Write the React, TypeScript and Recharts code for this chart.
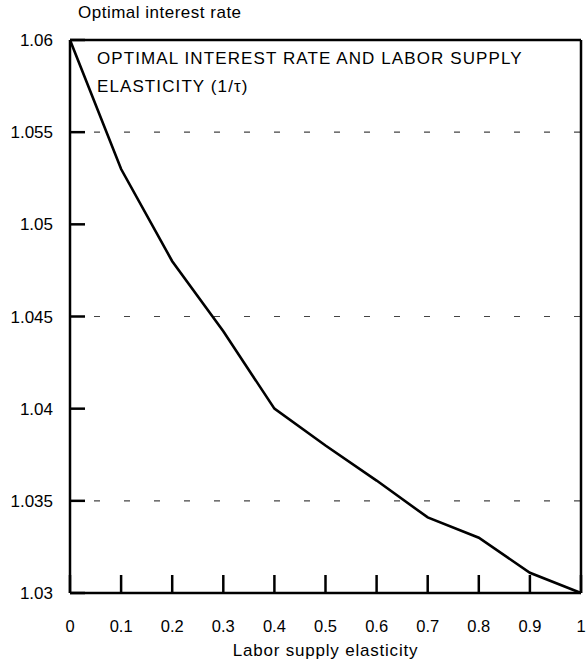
import { LineChart, Line, XAxis, YAxis, ReferenceLine, Label } from 'recharts'

// labor supply elasticity (x) and optimal interest rate (y)
const elasticity = [0, 0.1, 0.2, 0.3, 0.4, 0.5, 0.6, 0.7, 0.8, 0.9, 1]
const optimalRate = [1.06, 1.053, 1.048, 1.0442, 1.04, 1.038, 1.0361, 1.0341, 1.033, 1.0311, 1.03]

const xTicks = [0, 0.1, 0.2, 0.3, 0.4, 0.5, 0.6, 0.7, 0.8, 0.9, 1]
const yTicks = [1.03, 1.035, 1.04, 1.045, 1.05, 1.055, 1.06]
const dashedLevels = [1.055, 1.045, 1.035]

const data = elasticity.map((e, i) => ({ e, rate: optimalRate[i] }))

const FONT = '"Liberation Sans", Arial, Helvetica, sans-serif'

export default function App() {
  return (
    <div style={{ position: 'absolute', left: 0, top: 0, width: 587, height: 668, background: '#fff', fontFamily: FONT }}>
      <LineChart width={587} height={668} data={data} margin={{ top: 40, right: 6, left: 0, bottom: 45 }}>
        <XAxis
          dataKey="e"
          type="number"
          domain={[0, 1]}
          ticks={xTicks}
          tickFormatter={(v: number) => String(v)}
          tickSize={-18}
          tickMargin={45}
          height={30}
          axisLine={{ stroke: '#000', strokeWidth: 2.5 }}
          tickLine={{ stroke: '#000', strokeWidth: 2.5 }}
          tick={{ fill: '#000', fontSize: 16.5, fontFamily: FONT }}
        >
          <Label
            value="Labor supply elasticity"
            position="bottom"
            offset={21}
            fill="#000"
            fontSize={17}
            fontFamily={FONT}
            letterSpacing={0.8}
          />
        </XAxis>
        <YAxis
          type="number"
          domain={[1.03, 1.06]}
          ticks={yTicks}
          tickFormatter={(v: number) => String(v)}
          tickSize={-15}
          tickMargin={32}
          width={70}
          axisLine={{ stroke: '#000', strokeWidth: 2.5 }}
          tickLine={{ stroke: '#000', strokeWidth: 2.5 }}
          tick={{ fill: '#000', fontSize: 17, fontFamily: FONT }}
        />
        {dashedLevels.map((v) => (
          <ReferenceLine key={v} y={v} stroke="#444" strokeWidth={1.2} strokeDasharray="6 24" strokeDashoffset={-24} />
        ))}
        <ReferenceLine y={1.06} stroke="#000" strokeWidth={2.5} />
        <ReferenceLine x={1} stroke="#000" strokeWidth={2.5} />
        <Line
          type="linear"
          dataKey="rate"
          stroke="#000"
          strokeWidth={2.6}
          dot={false}
          isAnimationActive={false}
        />
      </LineChart>
      <div style={{ position: 'absolute', left: 78, top: 3, fontSize: 17, letterSpacing: 0.5, color: '#000' }}>
        Optimal interest rate
      </div>
      <div style={{ position: 'absolute', left: 97, top: 45, fontSize: 17, lineHeight: '28px', letterSpacing: 1.1, color: '#000' }}>
        OPTIMAL INTEREST RATE AND LABOR SUPPLY
        <br />
        ELASTICITY (1/τ)
      </div>
    </div>
  )
}
